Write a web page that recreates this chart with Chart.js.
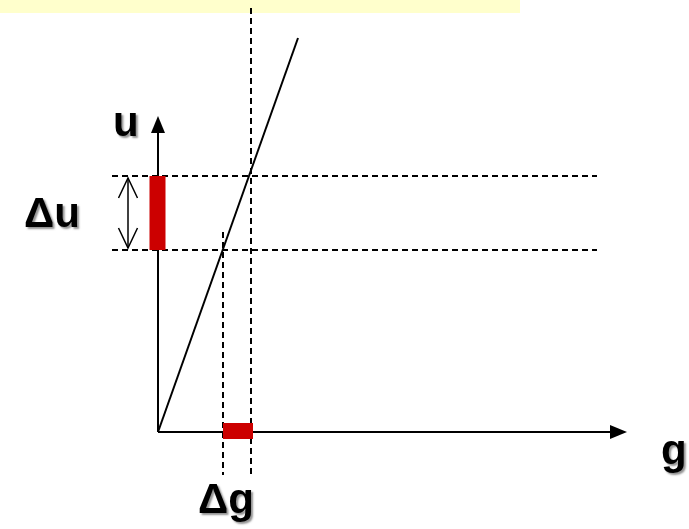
<!DOCTYPE html>
<html>
<head>
<meta charset="utf-8">
<script src="https://cdn.jsdelivr.net/npm/chart.js@4.4.0/dist/chart.umd.min.js"></script>
<style>
    html, body { margin: 0; padding: 0; background: #ffffff; }
    #chart { display: block; }
</style>
</head>
<body>
<canvas id="chart" width="689" height="529"></canvas>
<script>
// Data in chart units (origin of the diagram is g = 0, u = 0)
var gRange = [-15.8, 53.1];
var uRange = [-9.7, 43.2];

// the characteristic line u = k * g
var lineG = [0, 14];
var lineU = [0, 39.4];

// the two u levels and the two g levels they produce
var uLevels = [18.2, 25.6];
var gLevels = [6.5, 9.3];

// axis ends
var gAxisEnd = 46.9;
var uAxisEnd = 31.6;

// red interval bars
var uBarRange = [18.2, 25.6];
var gBarRange = [6.5, 9.5];

// text labels
var labelTexts = ['u', '\u0394u', 'g', '\u0394g'];
var labelG = [-4.5, -13.4, 50.3, 4.0];
var labelU = [29.6, 20.5, -3.2, -8.1];

// yellow strip at the top (left over from the slide title box)
var stripG = [-15.8, 36.2];
var stripU = [43.2, 41.9];

function pts(xs, ys) {
    return xs.map(function (x, i) { return { x: x, y: ys[i] }; });
}

function seg(color, width, data, dash) {
    return {
        data: data,
        showLine: true,
        borderColor: color,
        borderWidth: width,
        borderDash: dash || [],
        borderCapStyle: 'butt',
        pointRadius: 0,
        pointHoverRadius: 0,
        tension: 0,
        fill: false,
        clip: false
    };
}

var datasets = [
    // red bars on top
    seg('#cc0000', 16, pts([-0.05, -0.05], uBarRange)),
    seg('#cc0000', 16, pts(gBarRange, [0.1, 0.1])),
    // characteristic line
    seg('#000000', 2, pts(lineG, lineU)),
    // axes
    seg('#000000', 2, pts([0, gAxisEnd - 1.5], [0, 0])),
    seg('#000000', 2, pts([0, 0], [0, uAxisEnd - 1.5])),
    // double arrow for delta u
    seg('#000000', 1.5, pts([-3.0, -3.0], [uLevels[0] + 0.2, uLevels[1] - 0.2])),
    // dashed helper lines
    seg('#000000', 2, pts([-4.6, 43.9], [uLevels[1], uLevels[1]]), [6, 4]),
    seg('#000000', 2, pts([-4.6, 43.9], [uLevels[0], uLevels[0]]), [6, 4]),
    seg('#000000', 2, pts([gLevels[1], gLevels[1]], [42.4, -4.3]), [6, 4]),
    seg('#000000', 2, pts([gLevels[0], gLevels[0]], [20.0, -4.3]), [6, 4])
];

// background strip, arrow heads and labels, all placed through the scales
var diagramPlugin = {
    id: 'diagram',
    beforeDatasetsDraw: function (chart) {
        var ctx = chart.ctx;
        var xs = chart.scales.x, ys = chart.scales.y;
        var x0 = xs.getPixelForValue(stripG[0]), x1 = xs.getPixelForValue(stripG[1]);
        var y0 = ys.getPixelForValue(stripU[0]), y1 = ys.getPixelForValue(stripU[1]);
        ctx.save();
        ctx.fillStyle = '#ffffcc';
        ctx.fillRect(x0, y0, x1 - x0, y1 - y0);
        ctx.restore();
    },
    afterDatasetsDraw: function (chart) {
        var ctx = chart.ctx;
        var xs = chart.scales.x, ys = chart.scales.y;
        ctx.save();

        // filled arrow heads on the axes
        ctx.fillStyle = '#000000';
        var ox = xs.getPixelForValue(0), oy = ys.getPixelForValue(0);
        var gx = xs.getPixelForValue(gAxisEnd);
        ctx.beginPath();
        ctx.moveTo(gx, oy);
        ctx.lineTo(gx - 17, oy - 7);
        ctx.lineTo(gx - 17, oy + 7);
        ctx.closePath();
        ctx.fill();
        var uy = ys.getPixelForValue(uAxisEnd);
        ctx.beginPath();
        ctx.moveTo(ox, uy);
        ctx.lineTo(ox - 7, uy + 17);
        ctx.lineTo(ox + 7, uy + 17);
        ctx.closePath();
        ctx.fill();

        // open arrow heads on the delta u marker
        var ax = xs.getPixelForValue(-3.0);
        var aTop = ys.getPixelForValue(uLevels[1] - 0.2);
        var aBot = ys.getPixelForValue(uLevels[0] + 0.2);
        ctx.strokeStyle = '#000000';
        ctx.lineWidth = 1.5;
        ctx.beginPath();
        ctx.moveTo(ax - 9.5, aTop + 20);
        ctx.lineTo(ax, aTop);
        ctx.lineTo(ax + 9.5, aTop + 20);
        ctx.moveTo(ax - 9.5, aBot - 20);
        ctx.lineTo(ax, aBot);
        ctx.lineTo(ax + 9.5, aBot - 20);
        ctx.stroke();

        // labels with a soft grey shadow
        ctx.font = 'bold 42px "Liberation Sans", Arial, sans-serif';
        ctx.textAlign = 'left';
        ctx.textBaseline = 'alphabetic';
        labelTexts.forEach(function (t, i) {
            var px = xs.getPixelForValue(labelG[i]);
            var py = ys.getPixelForValue(labelU[i]);
            ctx.shadowColor = 'rgba(110, 110, 110, 0.75)';
            ctx.shadowOffsetX = 2;
            ctx.shadowOffsetY = 2;
            ctx.shadowBlur = 2;
            ctx.fillStyle = '#000000';
            ctx.fillText(t, px, py);
        });
        ctx.restore();
    }
};

new Chart(document.getElementById('chart').getContext('2d'), {
    type: 'scatter',
    data: { datasets: datasets },
    options: {
        responsive: false,
        animation: false,
        events: [],
        layout: { padding: 0 },
        plugins: {
            legend: { display: false },
            tooltip: { enabled: false }
        },
        scales: {
            x: { type: 'linear', display: false, min: gRange[0], max: gRange[1] },
            y: { type: 'linear', display: false, min: uRange[0], max: uRange[1] }
        }
    },
    plugins: [diagramPlugin]
});
</script>
</body>
</html>
